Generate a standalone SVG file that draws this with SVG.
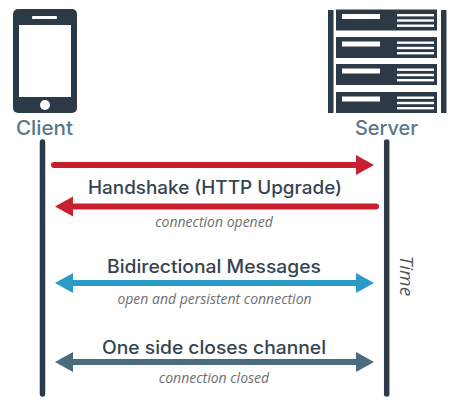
<svg xmlns="http://www.w3.org/2000/svg" width="453" height="400" viewBox="0 0 453 400">
<style>
.d{fill:#2b3a46}.w{fill:#fff}
.l{font-family:"Inter","Noto Sans",sans-serif;font-size:18px;font-weight:500;text-anchor:middle}
.h{fill:#5b7688;font-size:20px}
.m{fill:#34454f}
.s{font-family:"Open Sans","Noto Sans",sans-serif;font-size:14px;font-style:italic;fill:#6f6f6f;text-anchor:middle}
.t{font-size:19px;fill:#555}
.lf{stroke:#2b3a46;stroke-width:5.500;stroke-linecap:round;fill:none}
.a{stroke-width:6;stroke-linecap:round;fill:none}
</style>
<defs>
<g id="rack">
<rect class="d" x="336" y="0" width="101" height="21"/>
<rect class="w" x="342" y="4.500" width="38" height="5"/>
<rect class="w" x="397" y="4.500" width="37" height="2.400"/>
<rect class="w" x="397" y="9.800" width="37" height="2.400"/>
<rect class="w" x="397" y="15" width="37" height="2.400"/>
</g>
</defs>
<rect class="w" width="453" height="400"/>
<g id="client">
<rect class="d" x="13" y="9" width="64" height="104" rx="5"/>
<rect class="w" x="19" y="25" width="52" height="72"/>
<rect class="w" x="32" y="16" width="25" height="3" rx="1"/>
<circle class="w" cx="45" cy="105" r="5"/>
<text class="l h" x="44.500" y="135" textLength="57" lengthAdjust="spacingAndGlyphs">Client</text>
</g>
<g id="server">
<rect class="d" x="328" y="10" width="5.500" height="103"/>
<rect class="d" x="441" y="10" width="5.500" height="103"/>
<use href="#rack" y="9.500"/>
<use href="#rack" y="37"/>
<use href="#rack" y="64"/>
<use href="#rack" y="92"/>
<text class="l h" x="386.500" y="135" textLength="63" lengthAdjust="spacingAndGlyphs">Server</text>
</g>
<g id="connectors">
<path class="lf" d="M42.500 142V394"/>
<path class="lf" d="M386.700 142V394"/>
<path class="a" stroke="#c8202e" d="M54 165H360"/>
<path fill="#c8202e" d="M356 155L374 165L356 175Z"/>
<path class="a" stroke="#c8202e" d="M70 206.500H376"/>
<path fill="#c8202e" d="M73 196.500L55 206.500L73 216.500Z"/>
<path class="a" stroke="#2a9bc7" stroke-linecap="butt" d="M70 283H360"/>
<path fill="#2a9bc7" d="M73 273L55 283L73 293Z"/>
<path fill="#2a9bc7" d="M356 273L374 283L356 293Z"/>
<path class="a" stroke="#4a6a7e" stroke-linecap="butt" d="M70 362H360"/>
<path fill="#4a6a7e" d="M73 352L55 362L73 372Z"/>
<path fill="#4a6a7e" d="M356 352L374 362L356 372Z"/>
</g>
<g id="labels">
<text class="l m" x="215" y="194" textLength="254" lengthAdjust="spacingAndGlyphs">Handshake (HTTP Upgrade)</text>
<text class="s" x="214" y="227">connection opened</text>
<text class="l m" x="214" y="273" textLength="214" lengthAdjust="spacingAndGlyphs">Bidirectional Messages</text>
<text class="s" x="214.500" y="304">open and persistent connection</text>
<text class="l m" x="214" y="354" textLength="224" lengthAdjust="spacingAndGlyphs">One side closes channel</text>
<text class="s" x="214" y="383">connection closed</text>
<text class="s t" transform="translate(400 276) rotate(90)">Time</text>
</g>
</svg>
